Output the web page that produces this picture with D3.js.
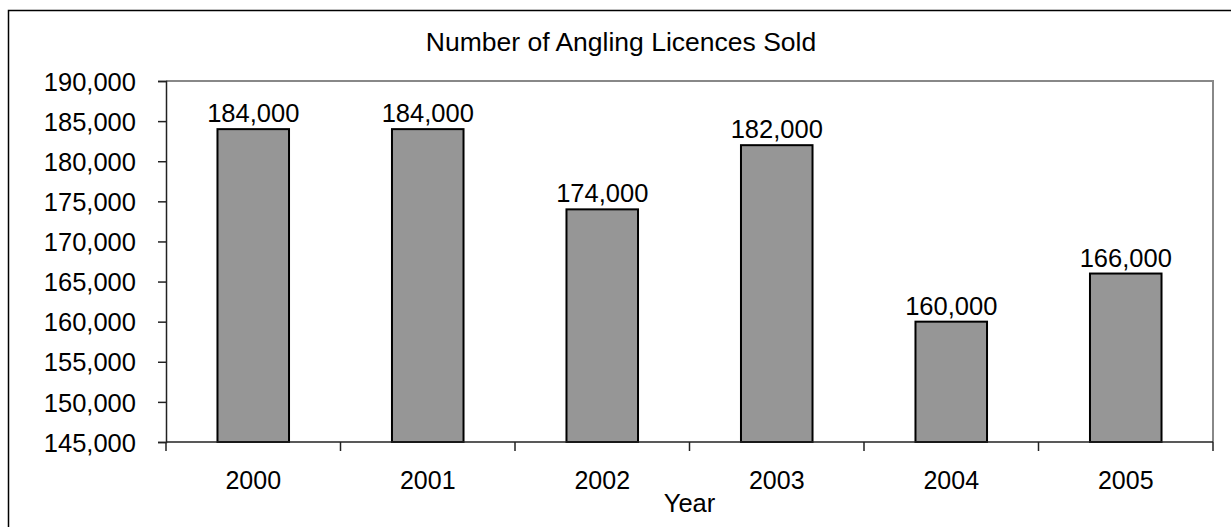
<!DOCTYPE html>
<html>
<head>
<meta charset="utf-8">
<script src="https://cdn.jsdelivr.net/npm/d3@7"></script>
<style>
  html, body { margin: 0; padding: 0; background: #fff; }
  svg { display: block; }
  text { font-family: "Liberation Sans", Arial, sans-serif; fill: #000; }
</style>
</head>
<body>
<script>
// Angling licences sold per year
const years = ["2000", "2001", "2002", "2003", "2004", "2005"];
const licences = [184000, 184000, 174000, 182000, 160000, 166000];
const yTicks = [145000, 150000, 155000, 160000, 165000, 170000, 175000, 180000, 185000, 190000];
const chartTitle = "Number of Angling Licences Sold";
const xTitle = "Year";

const W = 1231, H = 527;
const plot = { left: 166, right: 1213, top: 81, bottom: 442 };
const fmt = d3.format(",");

const svg = d3.select("body").append("svg").attr("width", W).attr("height", H);

// chart frame
svg.append("rect")
  .attr("x", 8.5).attr("y", 10.5).attr("width", 1240).attr("height", 540)
  .attr("fill", "none").attr("stroke", "#000").attr("stroke-width", 1.5);

const x = d3.scaleBand().domain(years).range([plot.left, plot.right]).paddingInner(0.59).paddingOuter(0.295);
const xb = d3.scaleBand().domain(years).range([plot.left, plot.right]);
const y = d3.scaleLinear().domain([145000, 190000]).range([plot.bottom, plot.top]);

// plot area outline (top and right)
svg.append("path")
  .attr("d", `M${plot.left},${plot.top}H${plot.right}V${plot.bottom}`)
  .attr("fill", "none").attr("stroke", "#888").attr("stroke-width", 2);

// bars
svg.append("g").selectAll("rect").data(licences).join("rect")
  .attr("x", (d, i) => x(years[i]))
  .attr("y", d => y(d))
  .attr("width", x.bandwidth())
  .attr("height", d => y(145000) - y(d))
  .attr("fill", "#969696").attr("stroke", "#000").attr("stroke-width", 2);

// value labels
svg.append("g").selectAll("text").data(licences).join("text")
  .attr("x", (d, i) => x(years[i]) + x.bandwidth() / 2)
  .attr("y", d => y(d) - 7)
  .attr("text-anchor", "middle")
  .attr("font-size", 25.5)
  .text(d => fmt(d));

// y axis
const yAxis = svg.append("g").attr("transform", `translate(${plot.left},0)`)
  .call(d3.axisLeft(y).tickValues(yTicks).tickFormat(fmt).tickSize(8).tickPadding(22));
yAxis.select(".domain").attr("stroke", "#222").attr("stroke-width", 1.5);
yAxis.selectAll(".tick line").attr("stroke", "#222").attr("stroke-width", 1.5);
yAxis.selectAll(".tick text").attr("font-size", 25.5).attr("font-family", "Liberation Sans, Arial, sans-serif")
  .attr("fill", "#000").attr("dy", "0.36em");

// x axis with ticks on category boundaries
const xAxis = svg.append("g").attr("transform", `translate(0,${plot.bottom})`);
xAxis.append("line").attr("x1", plot.left).attr("x2", plot.right)
  .attr("stroke", "#222").attr("stroke-width", 1.5);
const bounds = years.map(d => xb(d)).concat([plot.right]);
xAxis.selectAll("line.tk").data(bounds).join("line").attr("class", "tk")
  .attr("x1", d => d).attr("x2", d => d).attr("y1", 0).attr("y2", 9)
  .attr("stroke", "#222").attr("stroke-width", 1.5);
xAxis.selectAll("text").data(years).join("text")
  .attr("x", d => xb(d) + xb.bandwidth() / 2)
  .attr("y", 47)
  .attr("text-anchor", "middle")
  .attr("font-size", 25)
  .text(d => d);

// titles
svg.append("text").attr("x", 621).attr("y", 51).attr("text-anchor", "middle")
  .attr("font-size", 26.5).text(chartTitle);
svg.append("text").attr("x", (plot.left + plot.right) / 2).attr("y", 512).attr("text-anchor", "middle")
  .attr("font-size", 25.5).text(xTitle);
</script>
</body>
</html>
